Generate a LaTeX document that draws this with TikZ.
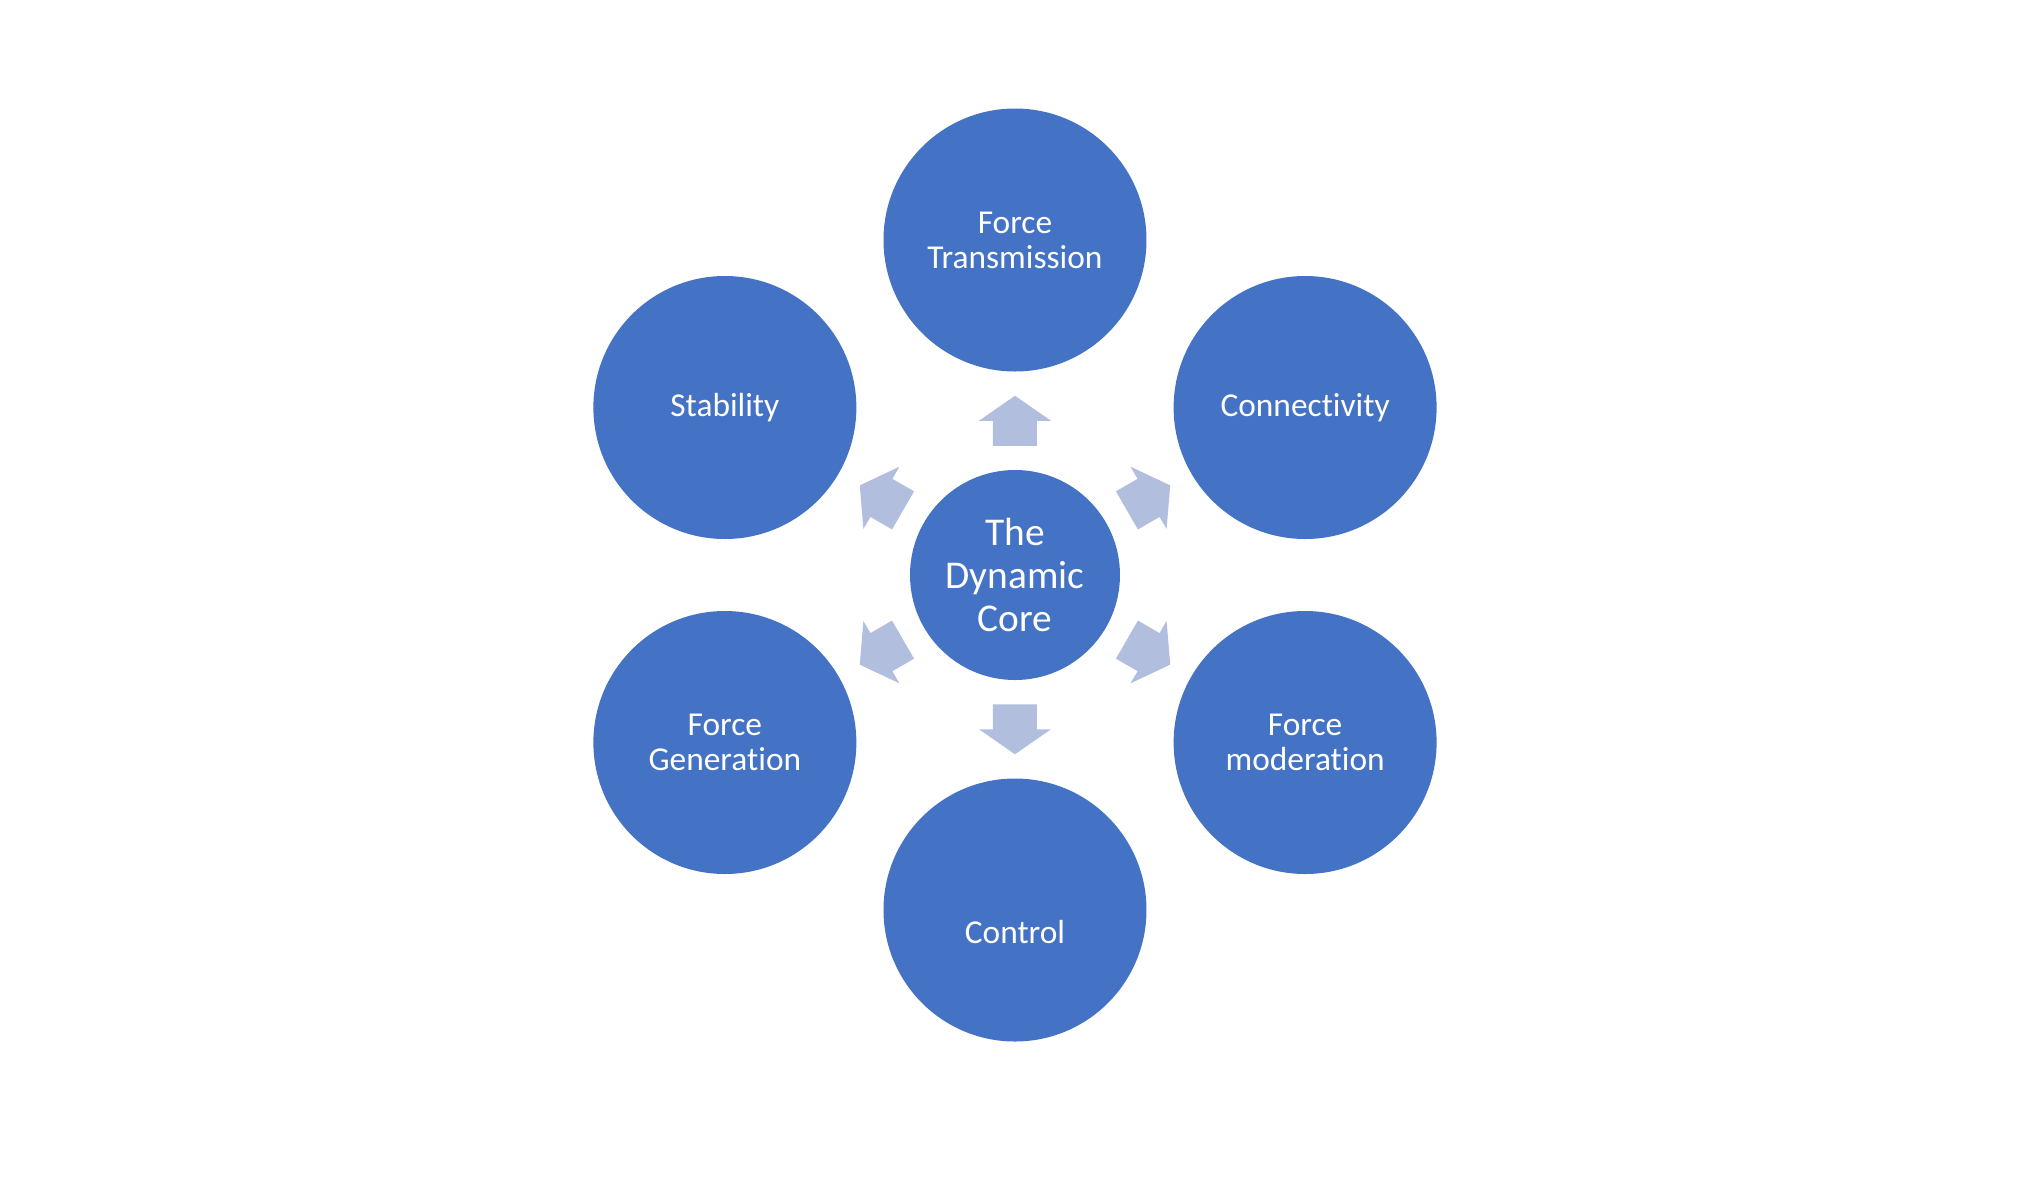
\documentclass[tikz,border=0pt]{standalone}
\usepackage{fontspec}
\setmainfont{Carlito}[Ligatures=NoCommon]
\usepackage{tikz}
\usetikzlibrary{calc}
\definecolor{spokeblue}{RGB}{68,114,196}
\definecolor{arrowblue}{RGB}{177,190,222}
\def\blockarrow[#1](#2)(#3){\fill[#1, shift={(#2)}, rotate=#3] (-0.25, -0.22) -- (0, -0.22) -- (0, -0.36) -- (0.25, 0) -- (0, 0.36) -- (0, 0.22) -- (-0.25, 0.22) -- cycle;}

\begin{document}
\begin{tikzpicture}[
		hub/.style={circle, fill=spokeblue, text=white, inner sep=0, minimum size=2.1cm, align=center, font=\fontsize{11.2}{12.2}\selectfont},
		spoke/.style={circle, fill=spokeblue, text=white, inner sep=0, minimum size=2.63cm, align=center, font=\fontsize{9.5}{10}\selectfont}
	]
		%%%%% START %%%%%
		
		\useasboundingbox (-10.15, -6.25) rectangle (10.23, 5.75);
		
		\node[hub] (core) at (0, 0) {The\\Dynamic\\Core};
		
		\node[spoke] (transmission) at (90:3.35) {Force\\Transmission};
		\node[spoke] (connectivity) at (30:3.35) {Connectivity};
		\node[spoke] (moderation) at (-30:3.35) {Force\\moderation};
		\node[spoke, text height=0.66cm, text depth=0cm] (control) at (-90:3.35) {Control};
		\node[spoke] (generation) at (-150:3.35) {Force\\Generation};
		\node[spoke] (stability) at (150:3.35) {Stability};
		
		\coordinate (a1) at ($(core.90)!0.5!(transmission.270)$);
		\coordinate (a2) at ($(core.30)!0.5!(connectivity.210)$);
		\coordinate (a3) at ($(core.-30)!0.5!(moderation.150)$);
		\coordinate (a4) at ($(core.-90)!0.5!(control.90)$);
		\coordinate (a5) at ($(core.-150)!0.5!(generation.30)$);
		\coordinate (a6) at ($(core.150)!0.5!(stability.-30)$);
		
		\blockarrow[fill=arrowblue](a1)(90);
		\blockarrow[fill=arrowblue](a2)(30);
		\blockarrow[fill=arrowblue](a3)(-30);
		\blockarrow[fill=arrowblue](a4)(-90);
		\blockarrow[fill=arrowblue](a5)(-150);
		\blockarrow[fill=arrowblue](a6)(150);
		
		%%%%% END %%%%%
	\end{tikzpicture}
\end{document}
